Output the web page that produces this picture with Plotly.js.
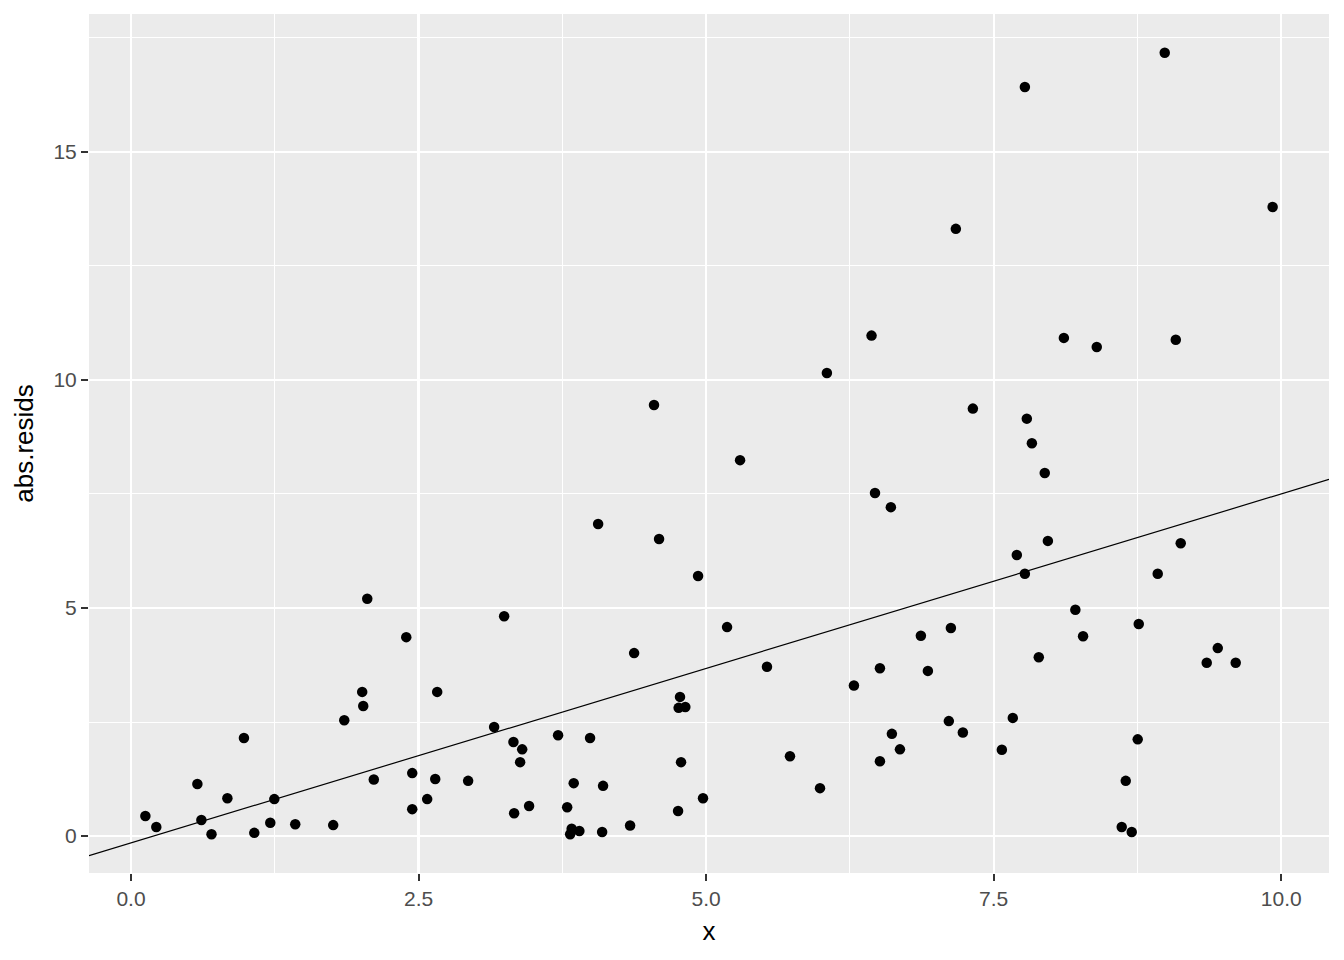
<!DOCTYPE html>
<html>
<head>
<meta charset="utf-8">
<script src="https://cdn.plot.ly/plotly-3.0.1.min.js"></script>
<style>
  html, body { margin: 0; padding: 0; background: #ffffff; }
  #chart { width: 1344px; height: 960px; }
</style>
</head>
<body>
<div id="chart"></div>
<script>
// Data
const xValues = [
  0.125, 0.22, 0.577, 0.612, 0.70, 0.838, 0.982, 1.072, 1.211, 1.246,
  1.428, 1.758, 1.854, 2.010, 2.019, 2.054, 2.111, 2.393, 2.445, 2.445,
  2.575, 2.645, 2.662, 2.931, 3.157, 3.244, 3.325, 3.331, 3.383, 3.401,
  3.461, 3.713, 3.792, 3.818, 3.831, 3.849, 3.898, 3.991, 4.061, 4.096,
  4.104, 4.339, 4.374, 4.547, 4.591, 4.756, 4.773, 4.761, 4.819, 4.782,
  4.930, 4.973, 5.182, 5.295, 5.529, 5.729, 5.990, 6.050, 6.285, 6.438,
  6.468, 6.511, 6.511, 6.606, 6.615, 6.685, 6.867, 6.928, 7.110, 7.128,
  7.171, 7.232, 7.319, 7.571, 7.666, 7.701, 7.771, 7.771, 7.788, 7.832,
  7.892, 7.944, 7.971, 8.110, 8.210, 8.277, 8.396, 8.613, 8.648, 8.700,
  8.752, 8.761, 8.926, 8.987, 9.083, 9.126, 9.352, 9.448, 9.604, 9.925
];
const absResids = [
  0.44, 0.20, 1.14, 0.35, 0.04, 0.83, 2.15, 0.07, 0.29, 0.81,
  0.26, 0.24, 2.54, 3.16, 2.85, 5.20, 1.24, 4.36, 1.38, 0.59,
  0.81, 1.25, 3.16, 1.21, 2.39, 4.82, 2.06, 0.50, 1.62, 1.90,
  0.66, 2.21, 0.63, 0.04, 0.16, 1.16, 0.11, 2.15, 6.84, 0.09,
  1.10, 0.23, 4.01, 9.45, 6.51, 0.55, 3.05, 2.81, 2.83, 1.62,
  5.70, 0.83, 4.58, 8.24, 3.71, 1.75, 1.05, 10.15, 3.30, 10.97,
  7.52, 1.64, 3.68, 7.21, 2.24, 1.90, 4.39, 3.62, 2.52, 4.56,
  13.31, 2.27, 9.37, 1.89, 2.59, 6.16, 16.42, 5.75, 9.15, 8.61,
  3.92, 7.96, 6.47, 10.92, 4.96, 4.38, 10.72, 0.20, 1.21, 0.09,
  2.12, 4.65, 5.75, 17.17, 10.88, 6.42, 3.80, 4.12, 3.80, 13.79
];
// fitted line abs.resids ~ x (coefficients)
const fitIntercept = -0.15;
const fitSlope = 0.765;

const xRange = [-0.365, 10.415];
const yRange = [-0.81, 18.02];
const xTickVals = [0, 2.5, 5, 7.5, 10];
const xTickText = ["0.0", "2.5", "5.0", "7.5", "10.0"];
const yTickVals = [0, 5, 10, 15];
const yTickText = ["0", "5", "10", "15"];

const lineX = [xRange[0], xRange[1]];
const lineY = lineX.map(v => fitIntercept + fitSlope * v);

const FONT = "Liberation Sans, Arial, Helvetica, sans-serif";

const traces = [
  {
    type: "scatter",
    mode: "markers",
    x: xValues,
    y: absResids,
    marker: { color: "#000000", size: 10.5 },
    cliponaxis: false,
    hoverinfo: "skip",
    showlegend: false
  },
  {
    type: "scatter",
    mode: "lines",
    x: lineX,
    y: lineY,
    line: { color: "#000000", width: 1.2 },
    hoverinfo: "skip",
    showlegend: false
  }
];

const axisCommon = {
  showline: false,
  zeroline: false,
  showgrid: true,
  gridcolor: "#FFFFFF",
  gridwidth: 2.1,
  ticks: "outside",
  ticklen: 7,
  tickwidth: 2,
  tickcolor: "#333333",
  tickfont: { family: FONT, size: 21, color: "#4D4D4D" },
  automargin: false,
  fixedrange: true
};

const layout = {
  width: 1344,
  height: 960,
  paper_bgcolor: "#FFFFFF",
  plot_bgcolor: "#EBEBEB",
  margin: { l: 89, r: 15, t: 14, b: 87 },
  showlegend: false,
  hovermode: false,
  font: { family: FONT },
  xaxis: Object.assign({}, axisCommon, {
    range: xRange,
    tickmode: "array",
    tickvals: xTickVals,
    ticktext: xTickText,
    minor: { showgrid: true, gridcolor: "#FFFFFF", gridwidth: 1, tickmode: "array",
             tickvals: [1.25, 3.75, 6.25, 8.75], ticks: "" },
    title: { text: "x", font: { family: FONT, size: 26, color: "#000000" }, standoff: 12 }
  }),
  yaxis: Object.assign({}, axisCommon, {
    range: yRange,
    tickmode: "array",
    tickvals: yTickVals,
    ticktext: yTickText,
    minor: { showgrid: true, gridcolor: "#FFFFFF", gridwidth: 1, tickmode: "array",
             tickvals: [2.5, 7.5, 12.5, 17.5], ticks: "" },
    title: { text: "abs.resids", font: { family: FONT, size: 26, color: "#000000" }, standoff: 12 }
  })
};

Plotly.newPlot("chart", traces, layout, { displayModeBar: false, staticPlot: true });
</script>
</body>
</html>
